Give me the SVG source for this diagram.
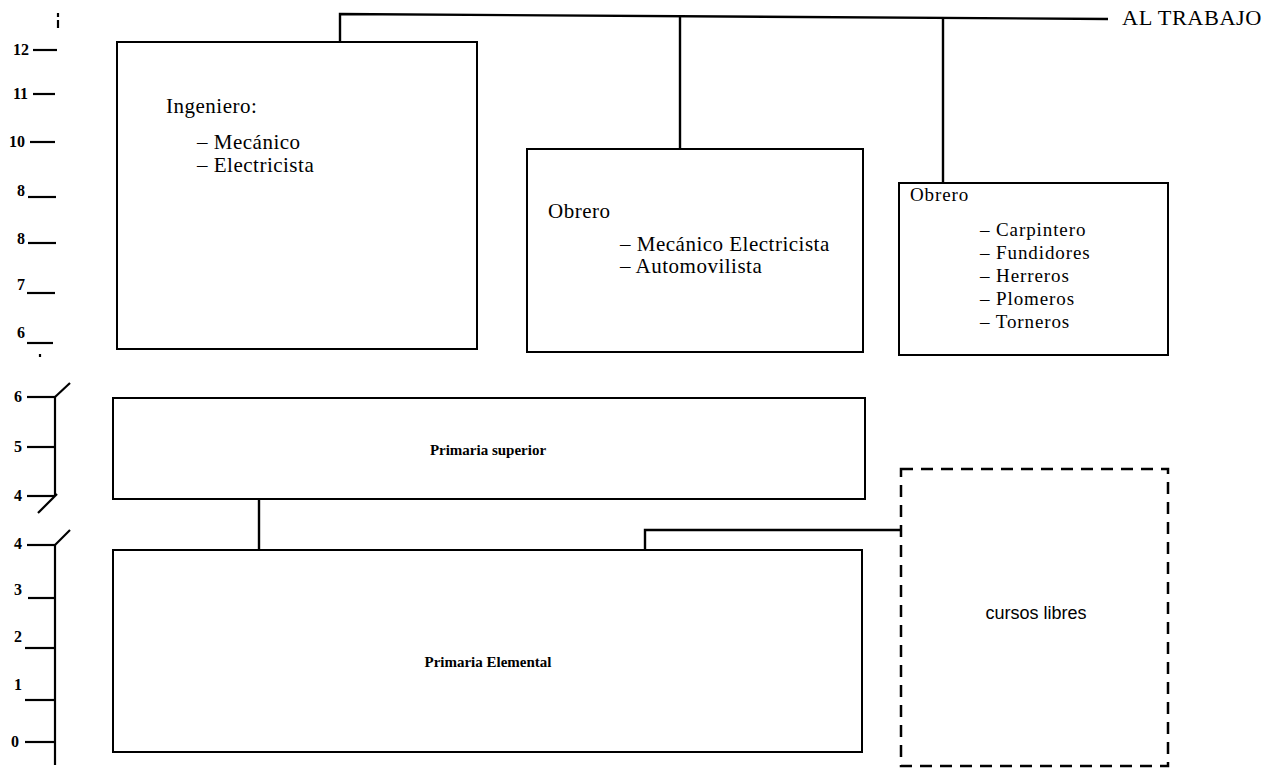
<svg xmlns="http://www.w3.org/2000/svg" width="1270" height="770" viewBox="0 0 1270 770">
<style>
.box{fill:none;stroke:#000;stroke-width:2}
.dash{fill:none;stroke:#000;stroke-width:2.5;stroke-dasharray:12 8}
.ln{fill:none;stroke:#000;stroke-width:2.4}
.tk{fill:none;stroke:#000;stroke-width:2.2}
.t{font-family:"Liberation Serif",serif;font-size:21px;letter-spacing:0.5px;fill:#000}
.l{font-family:"Liberation Serif",serif;font-size:19px;letter-spacing:0.9px;fill:#000}
.s{font-family:"Liberation Serif",serif;font-size:15px;font-weight:bold;fill:#000}
.ax{font-family:"Liberation Serif",serif;font-size:16px;font-weight:bold;fill:#000}
.c{font-family:"Liberation Sans",sans-serif;font-size:18px;fill:#000}
</style>
<rect width="1270" height="770" fill="#fff"/>
<g id="axis">
<line class="tk" x1="58" y1="13" x2="58" y2="17"/>
<line class="tk" x1="58" y1="20" x2="58" y2="28"/>
<line class="tk" x1="40" y1="354" x2="40" y2="357"/>
<text class="ax" x="13" y="55">12</text><line class="tk" x1="33" y1="50" x2="57" y2="50"/>
<text class="ax" x="13" y="99">11</text><line class="tk" x1="33" y1="94" x2="55" y2="94"/>
<text class="ax" x="9" y="147">10</text><line class="tk" x1="30" y1="142" x2="55" y2="142"/>
<text class="ax" x="17" y="196">8</text><line class="tk" x1="28" y1="197" x2="56" y2="197"/>
<text class="ax" x="17" y="244">8</text><line class="tk" x1="28" y1="243" x2="56" y2="243"/>
<text class="ax" x="17" y="290">7</text><line class="tk" x1="27" y1="293" x2="55" y2="293"/>
<text class="ax" x="17" y="338">6</text><line class="tk" x1="27" y1="343" x2="53" y2="343"/>
<text class="ax" x="14" y="402">6</text><line class="tk" x1="27" y1="397" x2="55" y2="397"/>
<text class="ax" x="14" y="452">5</text><line class="tk" x1="27" y1="447" x2="55" y2="447"/>
<text class="ax" x="14" y="501">4</text><line class="tk" x1="27" y1="496" x2="55" y2="496"/>
<line class="tk" x1="55" y1="397" x2="55" y2="496"/>
<line class="tk" x1="55" y1="397" x2="70" y2="383"/>
<line class="tk" x1="57" y1="494" x2="38" y2="513"/>
<text class="ax" x="14" y="549">4</text><line class="tk" x1="27" y1="545" x2="55" y2="545"/>
<text class="ax" x="14" y="595">3</text><line class="tk" x1="28" y1="598" x2="55" y2="598"/>
<text class="ax" x="14" y="642">2</text><line class="tk" x1="25" y1="648" x2="55" y2="648"/>
<text class="ax" x="14" y="690">1</text><line class="tk" x1="25" y1="700" x2="55" y2="700"/>
<text class="ax" x="11" y="747">0</text><line class="tk" x1="25" y1="742" x2="55" y2="742"/>
<line class="tk" x1="55" y1="545" x2="55" y2="765"/>
<line class="tk" x1="55" y1="545" x2="70" y2="530"/>
</g>
<g id="connectors">
<polyline class="ln" points="340,42 340,14 1108,19"/>
<line class="ln" x1="680" y1="17" x2="680" y2="149"/>
<line class="ln" x1="943" y1="18" x2="943" y2="183"/>
<line class="ln" x1="259" y1="499" x2="259" y2="550"/>
<polyline class="ln" points="645,550 645,530 901,530"/>
</g>
<text class="t" x="1122" y="25" font-size="19" letter-spacing="0" textLength="140" lengthAdjust="spacingAndGlyphs">AL TRABAJO</text>
<g id="ingeniero">
<rect class="box" x="117" y="42" width="360" height="307"/>
<text class="t" x="166" y="113">Ingeniero:</text>
<text class="t" x="197" y="149">– Mecánico</text>
<text class="t" x="197" y="172">– Electricista</text>
</g>
<g id="obrero1">
<rect class="box" x="527" y="149" width="336" height="203"/>
<text class="t" x="548" y="218">Obrero</text>
<text class="t" x="620" y="251">– Mecánico Electricista</text>
<text class="t" x="620" y="273">– Automovilista</text>
</g>
<g id="obrero2">
<rect class="box" x="899" y="183" width="269" height="172"/>
<text class="l" x="910" y="201">Obrero</text>
<text class="l" x="980" y="236">– Carpintero</text>
<text class="l" x="980" y="259">– Fundidores</text>
<text class="l" x="980" y="282">– Herreros</text>
<text class="l" x="980" y="305">– Plomeros</text>
<text class="l" x="980" y="328">– Torneros</text>
</g>
<g id="primaria-superior">
<rect class="box" x="113" y="398" width="752" height="101"/>
<text class="s" x="488" y="455" text-anchor="middle">Primaria superior</text>
</g>
<g id="primaria-elemental">
<rect class="box" x="113" y="550" width="749" height="202"/>
<text class="s" x="488" y="667" text-anchor="middle">Primaria Elemental</text>
</g>
<g id="cursos-libres">
<rect class="dash" x="901" y="469" width="267" height="297"/>
<text class="c" x="1036" y="619" text-anchor="middle">cursos libres</text>
</g>
</svg>
